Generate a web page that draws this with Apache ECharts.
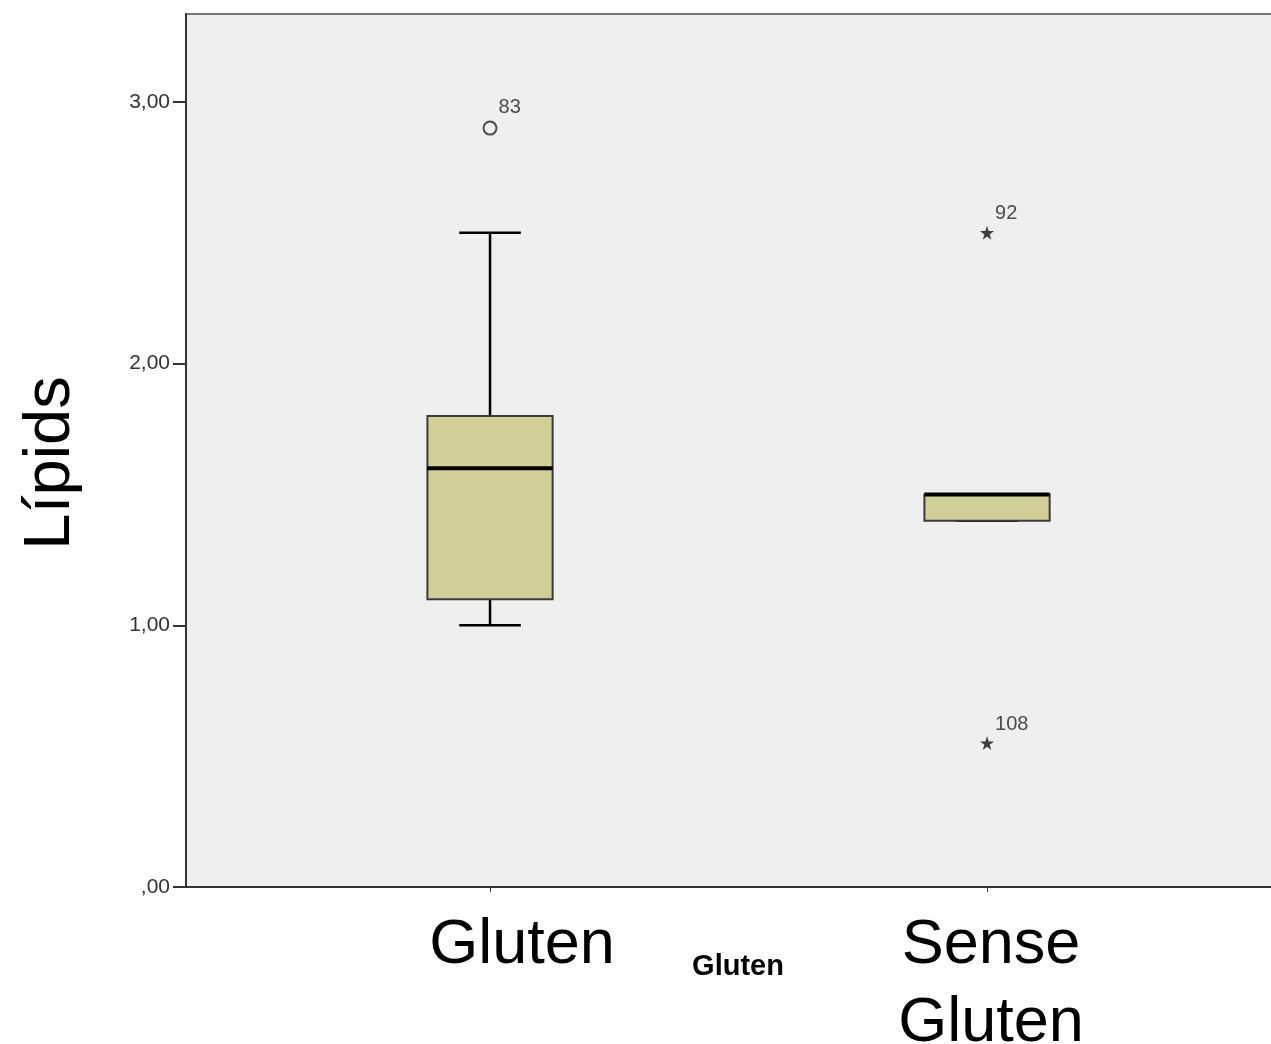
<!DOCTYPE html>
<html>
<head>
<meta charset="utf-8">
<script src="https://cdn.jsdelivr.net/npm/echarts@6/dist/echarts.min.js"></script>
<style>
  html, body { margin: 0; padding: 0; background: #ffffff; }
  #chart { width: 1271px; height: 1044px; }
</style>
</head>
<body>
<div id="chart"></div>
<script>
// Groups on the horizontal axis
const categories = ['Gluten', 'Sense Gluten'];
// Box statistics per group: [min whisker, Q1, median, Q3, max whisker]
const gluten = [1.0, 1.1, 1.6, 1.8, 2.5];
const senseGluten = [1.4, 1.4, 1.5, 1.5, 1.5];
// Outliers (circle) and extremes (star): [group index, value, case number]
const outliers = [[0, 2.9, '83']];
const extremes = [[1, 2.5, '92'], [1, 0.55, '108']];
// Vertical axis ticks
const yTickValues = [0, 1, 2, 3];
const yTickLabels = [',00', '1,00', '2,00', '3,00'];

const FONT = '"Liberation Sans", Arial, sans-serif';
const boxStats = [gluten, senseGluten];
const boxData = boxStats.map((s, i) => [i].concat(s));

const STAR = 'path://M50,0 L61.8,35.4 L100,35.4 L69.1,57.3 L80.9,92.7 L50,70.8 L19.1,92.7 L30.9,57.3 L0,35.4 L38.2,35.4 Z';

function renderBox(params, api) {
  const x = api.value(0);
  const lo = api.value(1), q1 = api.value(2), med = api.value(3), q3 = api.value(4), hi = api.value(5);
  const halfBox = 0.126, halfCap = 0.062;
  const pTL = api.coord([x - halfBox, q3]);
  const pBR = api.coord([x + halfBox, q1]);
  const pMedL = api.coord([x - halfBox, med]);
  const pMedR = api.coord([x + halfBox, med]);
  const pHi = api.coord([x, hi]);
  const pLo = api.coord([x, lo]);
  const capHiL = api.coord([x - halfCap, hi]), capHiR = api.coord([x + halfCap, hi]);
  const capLoL = api.coord([x - halfCap, lo]), capLoR = api.coord([x + halfCap, lo]);
  const pQ3 = api.coord([x, q3]), pQ1 = api.coord([x, q1]);
  const whisker = { stroke: '#000000', lineWidth: 2.5 };
  const children = [];
  if (hi > q3) {
    children.push({ type: 'line', shape: { x1: pQ3[0], y1: pQ3[1], x2: pHi[0], y2: pHi[1] }, style: whisker });
  }
  if (lo < q1) {
    children.push({ type: 'line', shape: { x1: pQ1[0], y1: pQ1[1], x2: pLo[0], y2: pLo[1] }, style: whisker });
  }
  children.push({ type: 'line', shape: { x1: capHiL[0], y1: capHiL[1], x2: capHiR[0], y2: capHiR[1] }, style: whisker });
  children.push({ type: 'line', shape: { x1: capLoL[0], y1: capLoL[1], x2: capLoR[0], y2: capLoR[1] }, style: whisker });
  children.push({
    type: 'rect',
    shape: { x: pTL[0], y: pTL[1], width: pBR[0] - pTL[0], height: pBR[1] - pTL[1] },
    style: { fill: '#d2ce98', stroke: '#3c3c3c', lineWidth: 2 }
  });
  children.push({
    type: 'line',
    shape: { x1: pMedL[0], y1: pMedL[1], x2: pMedR[0], y2: pMedR[1] },
    style: { stroke: '#000000', lineWidth: 4 }
  });
  return { type: 'group', children: children };
}

const chart = echarts.init(document.getElementById('chart'), null, { renderer: 'canvas' });
chart.setOption({
  animation: false,
  backgroundColor: '#ffffff',
  grid: {
    left: 186, right: -2, top: 14, bottom: 157,
    containLabel: false,
    outerBoundsMode: 'none',
    show: true, backgroundColor: '#efefef', borderColor: '#777777', borderWidth: 2
  },
  xAxis: {
    type: 'value',
    min: -0.6117, max: 1.5754,
    splitLine: { show: false },
    axisLine: { show: true, onZero: false, lineStyle: { color: '#333333', width: 2 } },
    axisTick: { show: true, length: 5, customValues: [0, 1], lineStyle: { color: '#333333', width: 1 } },
    axisLabel: {
      customValues: [0, 1],
      margin: 20,
      hideOverlap: false,
      formatter: v => {
        const name = categories[Math.round(v)] || '';
        return v === 0 ? '{g|' + name + '}' : '{s|' + name.replace(' ', '\n') + '}';
      },
      rich: {
        g: { fontFamily: FONT, fontSize: 63, lineHeight: 78, color: '#000000', padding: [0, 0, 0, 64] },
        s: { fontFamily: FONT, fontSize: 63, lineHeight: 78, color: '#000000', padding: [0, 0, 0, 8] }
      }
    },
    name: 'Gluten',
    nameLocation: 'middle',
    nameGap: 65,
    nameMoveOverlap: false,
    nameTextStyle: { fontFamily: FONT, fontSize: 29, fontWeight: 'bold', color: '#000000', padding: [0, 0, 0, 17] }
  },
  yAxis: {
    type: 'value',
    min: 0, max: 3.336,
    splitLine: { show: false },
    axisLine: { show: true, onZero: false, lineStyle: { color: '#333333', width: 2 } },
    axisTick: { show: true, length: 13, customValues: yTickValues, lineStyle: { color: '#333333', width: 2 } },
    axisLabel: {
      customValues: yTickValues,
      margin: 16,
      fontFamily: FONT, fontSize: 21, color: '#333333',
      formatter: v => yTickLabels[yTickValues.indexOf(v)]
    },
    name: 'Lípids',
    nameLocation: 'middle',
    nameRotate: 90,
    nameGap: 102,
    nameMoveOverlap: false,
    nameTextStyle: { fontFamily: FONT, fontSize: 65, color: '#000000', padding: [0, 25, 0, 0] }
  },
  series: [
    {
      type: 'custom',
      renderItem: renderBox,
      data: boxData,
      encode: { x: 0, y: [1, 2, 3, 4, 5] },
      z: 2
    },
    {
      type: 'scatter',
      data: outliers,
      symbol: 'circle',
      symbolSize: 13,
      itemStyle: { color: 'rgba(0,0,0,0)', borderColor: '#222222', borderWidth: 2 },
      label: {
        show: true, formatter: p => p.data[2], position: [16, -13],
        align: 'left', verticalAlign: 'middle',
        fontFamily: FONT, fontSize: 20, color: '#222222'
      },
      z: 3
    },
    {
      type: 'scatter',
      data: extremes,
      symbol: STAR,
      symbolSize: 14,
      itemStyle: { color: '#111111' },
      label: {
        show: true, formatter: p => p.data[2], position: [15, -12],
        align: 'left', verticalAlign: 'middle',
        fontFamily: FONT, fontSize: 20, color: '#222222'
      },
      z: 3
    }
  ]
});
</script>
</body>
</html>
